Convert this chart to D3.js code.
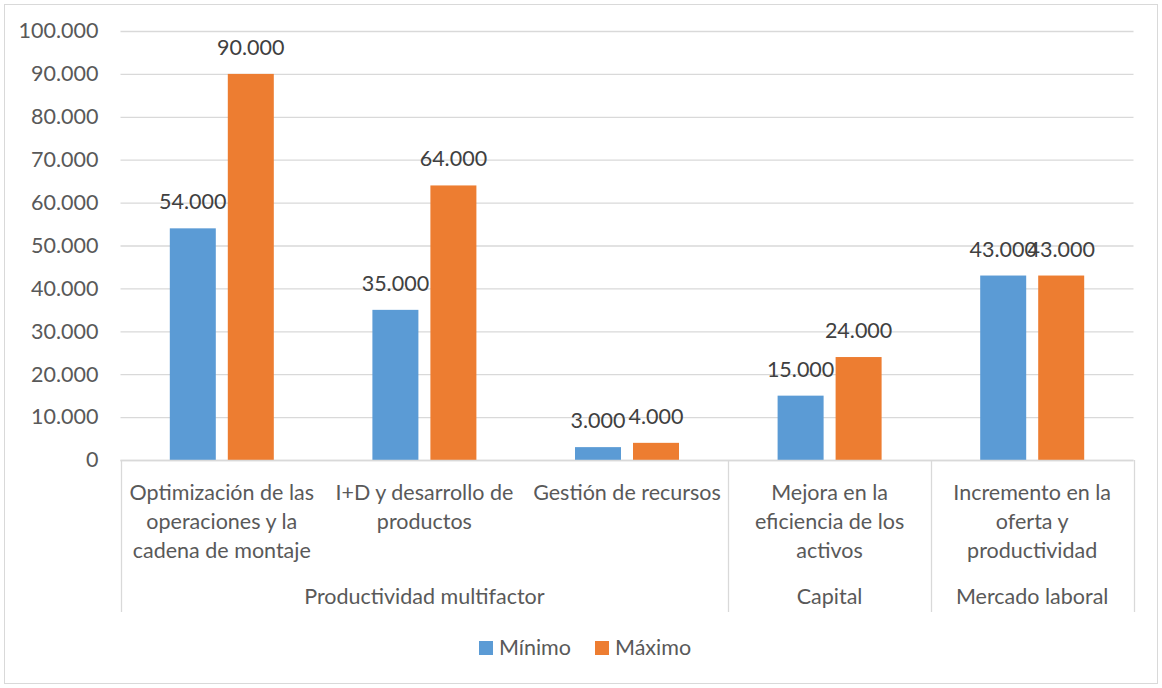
<!DOCTYPE html>
<html><head><meta charset="utf-8">
<script src="https://cdn.jsdelivr.net/npm/d3@7"></script>
<style>body{margin:0;background:#fff;}svg{display:block;font-family:Lato,"Open Sans",sans-serif;}</style>
</head><body>
<svg id="c" width="1162" height="688"></svg>
<script>
const categories = [
  ["Optimización de las","operaciones y la","cadena de montaje"],
  ["I+D y desarrollo de","productos"],
  ["Gestión de recursos"],
  ["Mejora en la","eficiencia de los","activos"],
  ["Incremento en la","oferta y","productividad"]
];
const groups = ["Productividad multifactor","Capital","Mercado laboral"];
const groupSpans = [3,1,1];
const seriesNames = ["Mínimo","Máximo"];
const minimo = [54000,35000,3000,15000,43000];
const maximo = [90000,64000,4000,24000,43000];
const yTicks = [0,10000,20000,30000,40000,50000,60000,70000,80000,90000,100000];
const colors = ["#5b9bd5","#ed7d31"];

const FS = "21.5px";
const svg = d3.select("#c");
svg.append("rect").attr("x",4.5).attr("y",4.5).attr("width",1153).attr("height",679)
  .attr("fill","#fff").attr("stroke","#d9d9d9");

const L=120.5, R=1133.5, T=31, B=460;
const fmt = v => v===0 ? "0" : d3.format(",")(v).replace(/,/g,".");
const y = d3.scaleLinear().domain([0,100000]).range([B,T]);
const x = d3.scaleBand().domain(d3.range(5)).range([L,R]).paddingInner(0).paddingOuter(0);
const bw = x.bandwidth();
const x1 = d3.scaleBand().domain([0,1]).range([bw/2-52, bw/2+52]).paddingInner(12/58).paddingOuter(0);

// gridlines
const ya = d3.axisLeft(y).tickValues(yTicks).tickFormat(fmt).tickSize(-(R-L)).tickPadding(22);
const gy = svg.append("g").attr("transform",`translate(${L},0)`).call(ya);
gy.select(".domain").remove();
gy.selectAll(".tick line").attr("stroke","#d9d9d9").attr("stroke-width",1.3);
gy.selectAll(".tick text").attr("fill","#595959").style("font-size",FS).style("font-family","Lato,sans-serif");

// bars
const data = [minimo,maximo];
data.forEach((arr,si)=>{
  const g = svg.append("g");
  g.selectAll("rect").data(arr).join("rect")
    .attr("x",(d,i)=>x(i)+x1(si)).attr("width",x1.bandwidth())
    .attr("y",d=>y(d)).attr("height",d=>B-y(d)).attr("fill",colors[si]);
  g.selectAll("text").data(arr).join("text")
    .attr("x",(d,i)=>x(i)+x1(si)+x1.bandwidth()/2).attr("y",d=>y(d)-19)
    .attr("text-anchor","middle").attr("fill","#404040").style("font-size",FS).text(fmt);
});

// x axis line
svg.append("line").attr("x1",L).attr("x2",R).attr("y1",B+0.5).attr("y2",B+0.5).attr("stroke","#d9d9d9").attr("stroke-width",1.3);

// category labels
categories.forEach((lines,i)=>{
  const t = svg.append("text").attr("text-anchor","middle").attr("fill","#595959").style("font-size",FS);
  lines.forEach((ln,j)=>t.append("tspan").attr("x",x(i)+bw/2).attr("y",500+j*29).text(ln));
});

// group separators & labels
let start=0;
const bounds=[0];
groupSpans.forEach(s=>{start+=s;bounds.push(start);});
bounds.forEach(b=>{
  const xx = b<5 ? x(b) : R;
  svg.append("line").attr("x1",Math.round(xx)+0.5).attr("x2",Math.round(xx)+0.5).attr("y1",B).attr("y2",612)
    .attr("stroke","#d9d9d9").attr("stroke-width",1.3);
});
groups.forEach((g,i)=>{
  const a = x(bounds[i]), b = bounds[i+1]<5 ? x(bounds[i+1]) : R;
  svg.append("text").attr("x",(a+b)/2).attr("y",604).attr("text-anchor","middle")
    .attr("fill","#595959").style("font-size",FS).text(g);
});

// legend
const lg = svg.append("g");
const lx = [479,595];
seriesNames.forEach((n,i)=>{
  lg.append("rect").attr("x",lx[i]).attr("y",641).attr("width",14).attr("height",14).attr("fill",colors[i]);
  lg.append("text").attr("x",lx[i]+20).attr("y",655).attr("fill","#595959").style("font-size",FS).text(n);
});
</script>
</body></html>
